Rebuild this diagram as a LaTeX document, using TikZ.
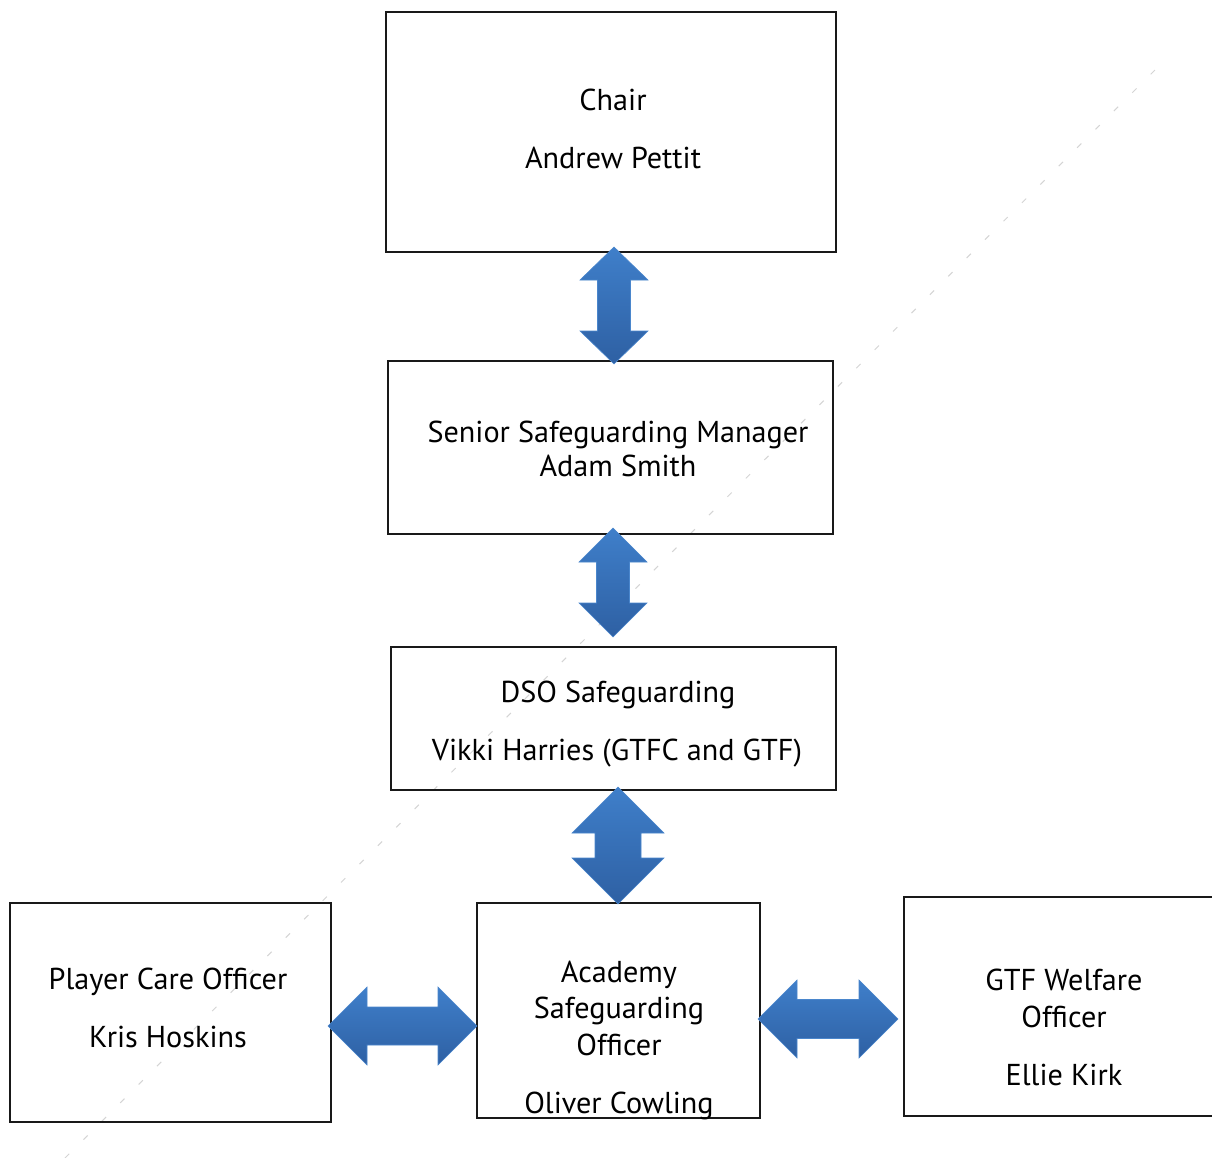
\documentclass[tikz,border=0pt]{standalone}
\usepackage{fontspec}
\setmainfont{PT Sans}
\begin{document}
\begin{tikzpicture}[x=1pt,y=-1pt,
  box/.style={draw=black!90,line width=1.7pt,rectangle,inner sep=0pt},
  lbl/.style={anchor=base,inner sep=0pt,font=\fontsize{30.2}{35}\selectfont},
  arrowshade/.style={top color=arrowlight,bottom color=arrowdark,draw=arrowedge,line width=0.6pt},
  diag/.style={draw=black!17,line width=1pt,dash pattern=on 6pt off 20pt}
]
\definecolor{arrowlight}{HTML}{3F7FCA}
\definecolor{arrowdark}{HTML}{2E60A3}
\definecolor{arrowedge}{HTML}{4A86CC}
\newcommand\vdarr[6]{%
  \shade[arrowshade] (#1,#2) -- (#1+#5,#2+#4) -- (#1+#6,#2+#4) -- (#1+#6,#3-#4) -- (#1+#5,#3-#4) -- (#1,#3) -- (#1-#5,#3-#4) -- (#1-#6,#3-#4) -- (#1-#6,#2+#4) -- (#1-#5,#2+#4) -- cycle;}
\newcommand\hdarr[6]{%
  \shade[arrowshade] (#2,#1) -- (#2+#4,#1-#5) -- (#2+#4,#1-#6) -- (#3-#4,#1-#6) -- (#3-#4,#1-#5) -- (#3,#1) -- (#3-#4,#1+#5) -- (#3-#4,#1+#6) -- (#2+#4,#1+#6) -- (#2+#4,#1+#5) -- cycle;}
\useasboundingbox (0,0) rectangle (1212,1158);
\clip (0,0) rectangle (1212,1158);
% faint diagonal dashed line
\coordinate (dA) at (65,1158);
\coordinate (dB) at (1160,65);
\draw[diag] (dA) -- (dB);
% boxes
\node[box,minimum width=450,minimum height=240] (chair) at (611,132) {};
\node[box,minimum width=445,minimum height=173] (ssm) at (610.5,447.5) {};
\node[box,minimum width=445,minimum height=143] (dso) at (613.5,718.5) {};
\node[box,minimum width=283,minimum height=215] (aso) at (618.5,1010.5) {};
\node[box,minimum width=321,minimum height=219] (pco) at (170.5,1012.5) {};
\node[box,minimum width=318,minimum height=219] (gtf) at (1063,1006.5) {};
% texts
\node[lbl] (t1a) at (613,111) {Chair};
\node[lbl] (t1b) at (613,169) {Andrew Pettit};
\node[lbl] (t2a) at (618,442) {Senior Safeguarding Manager};
\node[lbl] (t2b) at (618,476) {Adam Smith};
\node[lbl] (t3a) at (618,702) {DSO Safeguarding};
\node[lbl] (t3b) at (617,760) {Vikki Harries (GTFC and GTF)};
\node[lbl] (t4a) at (619,982) {Academy};
\node[lbl] (t4b) at (619,1018) {Safeguarding};
\node[lbl] (t4c) at (619,1055) {Officer};
\node[lbl] (t4d) at (619,1113) {Oliver Cowling};
\node[lbl] (t5a) at (168,989) {Player Care Officer};
\node[lbl] (t5b) at (168,1047) {Kris Hoskins};
\node[lbl] (t6a) at (1064,990) {GTF Welfare};
\node[lbl] (t6b) at (1064,1027) {Officer};
\node[lbl] (t6c) at (1064,1085) {Ellie Kirk};
% block double arrows
\vdarr{614}{247}{364}{33}{34}{16.5}
\vdarr{613}{528}{637}{34}{34}{16.5}
\vdarr{618}{787}{904}{46}{46}{23}
\hdarr{1026}{328}{477}{39}{39}{19}
\hdarr{1019}{758}{898}{39}{39}{19.5}
\end{tikzpicture}
\end{document}
